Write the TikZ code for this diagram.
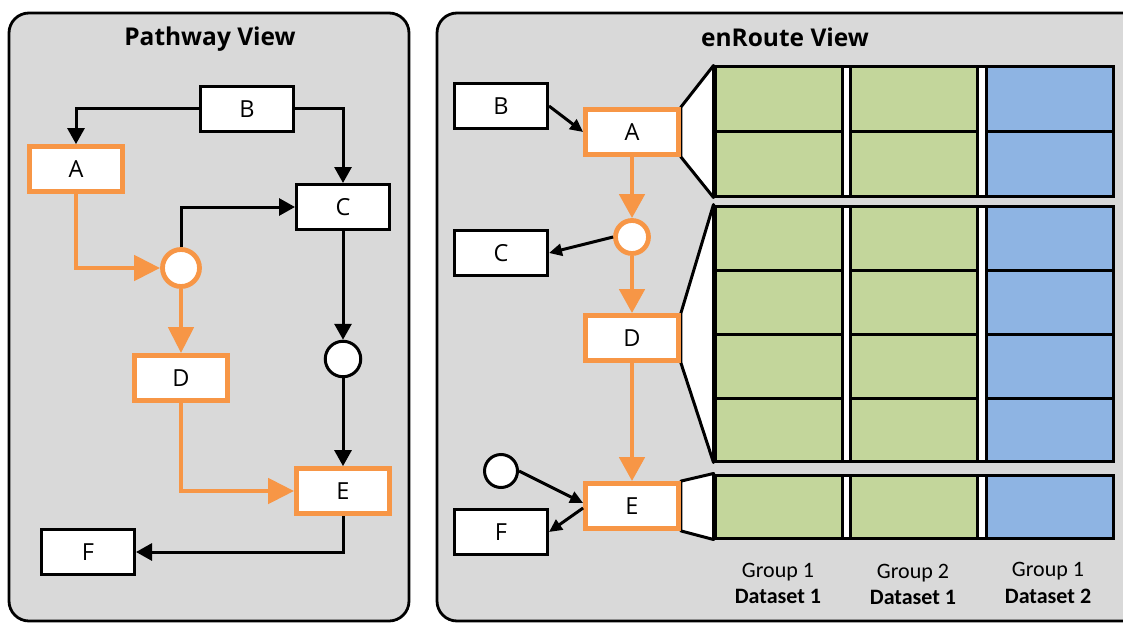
\documentclass[tikz,border=0pt]{standalone}
\usepackage{fontspec}
\setmainfont{Carlito}
\newfontfamily\boxfont{Open Sans}
\usetikzlibrary{arrows.meta,calc}
\pgfdeclarelayer{bg}
\pgfsetlayers{bg,main}
\definecolor{panelgray}{HTML}{D9D9D9}
\definecolor{hlorange}{HTML}{F79646}
\definecolor{cellgreen}{HTML}{C3D69B}
\definecolor{cellblue}{HTML}{8EB4E3}

\begin{document}
\begin{tikzpicture}[x=1pt,y=-1pt,
  panel/.style={draw=black, line width=2.8pt, fill=panelgray, rounded corners=20pt},
  title/.style={font=\boxfont\fontsize{24.5}{28}\selectfont\bfseries, anchor=base},
  plain/.style={draw=black, line width=3pt, fill=white, minimum width=93pt,
    minimum height=45pt, inner sep=0pt, font=\boxfont\fontsize{23.5}{28}\selectfont},
  hl/.style={plain, draw=hlorange, line width=4.8pt},
  joint/.style={circle, draw=black, line width=3pt, fill=white, inner sep=0pt, minimum size=#1},
  hljoint/.style={joint=#1, draw=hlorange, line width=4.8pt},
  blk/.style={draw=black, line width=3pt, -{Triangle[length=16pt,width=17pt]}},
  org/.style={draw=hlorange, line width=4.8pt, -{Triangle[length=26pt,width=25pt]}},
  blks/.style={draw=black, line width=3pt, -{Triangle[length=13pt,width=12pt]}},
  orgs/.style={draw=hlorange, line width=4.8pt, -{Triangle[length=24pt,width=25pt]}},
  tabframe/.style={draw=black, line width=3pt, fill=white, minimum width=398pt, inner sep=0pt},
  cell/.style={draw=black, line width=3pt},
  zoomfan/.style={draw=black, line width=3pt, fill=white, line join=round},
  grp/.style={font=\fontsize{22}{26}\selectfont, anchor=base},
  dset/.style={font=\fontsize{22}{26}\selectfont\bfseries, anchor=base}
]
\useasboundingbox (0,0) rectangle (1123,623);

% ---------- Pathway view ----------
\node[title] (pwtitle) at (210,46) {Pathway View};
\node[plain] (B1) at (247,109) {B};
\node[hl]    (A1) at (76,169) {A};
\node[plain] (C1) at (343,207) {C};
\node[hljoint=37pt] (O1) at (181,268) {};
\node[hl]    (D1) at (181,378) {D};
\node[joint=35.5pt] (K1) at (343,359) {};
\node[hl]    (E1) at (343,491) {E};
\node[plain] (F1) at (88,552) {F};

\draw[blk] (B1.west) -| (A1.north);
\draw[blk] (B1.east) -| (C1.north);
\draw[blk] (O1.north) |- (C1.west);
\draw[org] (A1.south) |- (O1.west);
\draw[org] (O1.south) -- (D1.north);
\draw[org] (D1.south) |- (E1.west);
\draw[blk] (C1.south) -- (K1.north);
\draw[blk] (K1.south) -- (E1.north);
\draw[blk] (E1.south) |- (F1.east);

% ---------- enRoute view ----------
\node[title] (ertitle) at (785,47) {enRoute View};
\node[plain] (B2) at (501,106) {B};
\node[hl]    (A2) at (632,132) {A};
\node[hljoint=33pt] (O2) at (632,237) {};
\node[plain] (C2) at (501,253) {C};
\node[hl]    (D2) at (632,338) {D};
\node[joint=33pt] (K2) at (501,471) {};
\node[hl]    (E2) at (632,506) {E};
\node[plain] (F2) at (501,532) {F};

\draw[blks] (B2.east) -- (A2.west);
\draw[orgs] (A2.south) -- (O2.north);
\draw[blks] (O2.west) -- (C2.east);
\draw[orgs] (O2.south) -- (D2.north);
\draw[orgs] (D2.south) -- (E2.north);
\draw[blks] (K2.east) -- ([yshift=3pt]E2.west);
\draw[blks] ([yshift=-2pt]E2.west) -- (F2.east);

% data tables
\node[tabframe, minimum height=129pt] (T1) at (914,131.5) {};
\node[tabframe, minimum height=255pt] (T2) at (914,333.5) {};
\node[tabframe, minimum height=63pt]  (T3) at (914,506.5) {};

\foreach \xa/\xb/\col in {715/842/cellgreen, 850/977/cellgreen, 986/1113/cellblue} {
  \draw[cell, fill=\col] (\xa,67) rectangle (\xb,196);
  \draw[cell] (\xa,131) -- (\xb,131);
  \draw[cell, fill=\col] (\xa,206) rectangle (\xb,461);
  \foreach \yy in {270,334,398} { \draw[cell] (\xa,\yy) -- (\xb,\yy); }
  \draw[cell, fill=\col] (\xa,475) rectangle (\xb,538);
}

\node[grp]  (g1) at (778,577) {Group 1};
\node[dset] (d1) at (778,603) {Dataset 1};
\node[grp]  (g2) at (913,578) {Group 2};
\node[dset] (d2) at (913,604) {Dataset 1};
\node[grp]  (g3) at (1048,576) {Group 1};
\node[dset] (d3) at (1048,603) {Dataset 2};

% panels and zoom fans behind everything
\begin{pgfonlayer}{bg}
  \clip (0,0) rectangle (1123,623);
  \draw[panel] (9,13) rectangle (409,621);
  \draw[panel] (437,13) rectangle (1150,621);
  \draw[zoomfan] (A2.north east) -- (T1.north west) -- (T1.south west) -- (A2.south east) -- cycle;
  \draw[zoomfan] (D2.north east) -- (T2.north west) -- (T2.south west) -- (D2.south east) -- cycle;
  \draw[zoomfan] (E2.north east) -- (T3.north west) -- (T3.south west) -- (E2.south east) -- cycle;
\end{pgfonlayer}
\end{tikzpicture}
\end{document}
